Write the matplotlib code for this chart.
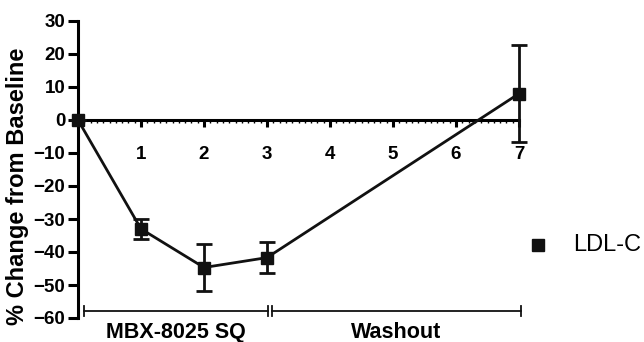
import matplotlib
matplotlib.use('Agg')
import matplotlib.pyplot as plt
from matplotlib.lines import Line2D
from matplotlib.ticker import MultipleLocator

plt.rcParams['font.family'] = ['Liberation Sans', 'DejaVu Sans']

weeks = [0, 1, 2, 3, 7]
ldl = [0, -33, -44.7, -41.7, 8]
err = [0, 3, 7, 4.8, 14.8]
yticks = list(range(-60, 31, 10))
xticks = [1, 2, 3, 4, 5, 6, 7]
phases = ['MBX-8025 SQ', 'Washout']
phase_spans = [(0.09, 3.02), (3.08, 7.03)]

fig = plt.figure(figsize=(6.44, 3.42), dpi=100)
ax = fig.add_axes([78 / 644, 24 / 342, 441 / 644, 297 / 342])

ax.errorbar(weeks, ldl, yerr=err, color='#111111', lw=2, marker='s', ms=8,
            capsize=6, capthick=2, elinewidth=2, clip_on=False, zorder=5)

ax.set_xlim(0, 7)
ax.set_ylim(-60, 30)
ax.set_yticks(yticks)
ax.set_xticks(xticks)
ax.xaxis.set_minor_locator(MultipleLocator(0.1))

for s in ['top', 'right']:
    ax.spines[s].set_visible(False)
ax.spines['bottom'].set_position(('data', 0))
ax.spines['left'].set_linewidth(2.2)
ax.spines['bottom'].set_linewidth(2.2)

ax.tick_params(axis='y', direction='out', length=7, width=2.2, labelsize=13.5, pad=2)
ax.tick_params(axis='x', which='major', direction='out', length=5, width=2.2,
               labelsize=13.5, pad=14)
ax.tick_params(axis='x', which='minor', direction='out', length=2, width=1)
for lab in ax.get_xticklabels() + ax.get_yticklabels():
    lab.set_fontweight('bold')

ax.set_ylabel('% Change from Baseline', fontsize=17, fontweight='bold')
ax.yaxis.set_label_coords(-0.111, 0.444)

# phase brackets under the plot
for name, (a, b) in zip(phases, phase_spans):
    ax.plot([a, b], [-58, -58], color='#111111', lw=1.3, clip_on=False)
    ax.plot([a, a], [-59.5, -56.5], color='#111111', lw=1.3, clip_on=False)
    ax.plot([b, b], [-59.5, -56.5], color='#111111', lw=1.3, clip_on=False)
    ax.text((a + b) / 2, -64.5, name, ha='center', va='center', fontsize=15.5,
            fontweight='bold', clip_on=False)

# legend
fig.add_artist(Line2D([538 / 644], [1 - 245 / 342], marker='s', ms=8.5,
                      color='#111111', ls='none', transform=fig.transFigure))
fig.text(573 / 644, 1 - 245 / 342, 'LDL-C', fontsize=17, va='center', ha='left')

fig.savefig('out.png', dpi=100)
